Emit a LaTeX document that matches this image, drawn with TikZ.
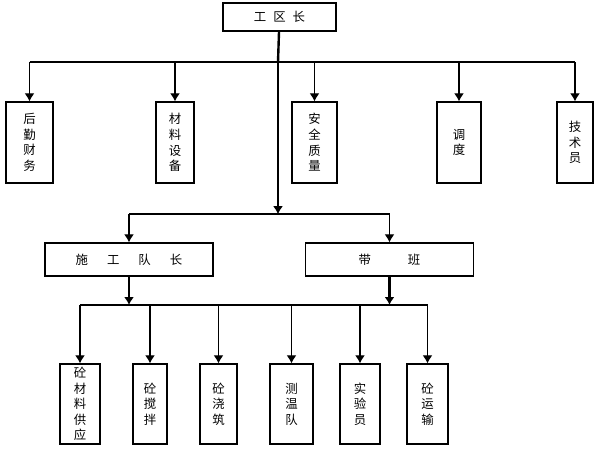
\documentclass[tikz,border=0pt]{standalone}
\usepackage{fontspec}
\newfontfamily\cjk{Noto Sans CJK SC}
\usetikzlibrary{arrows.meta}

\begin{document}
\begin{tikzpicture}[x=0.5pt, y=-0.5pt, >={Latex[length=4pt,width=5pt]}]
	\tikzset{block/.style={draw, rectangle, align=center, inner sep=0pt, line width=0.7pt,
			font=\cjk\fontsize{6.2}{7.8}\selectfont},
		tall/.style={block, minimum height=40.5pt},
		wide/.style={block, minimum width=84pt, minimum height=16.5pt},
		trunk/.style={line width=1.2pt},
		link/.style={line width=0.6pt}
	}
	\useasboundingbox (0,0) rectangle (600,450);

	\node [block, minimum width=56.5pt, minimum height=14pt] (chief) at (279.5,17) {工\hspace{3.5pt}区\hspace{3.5pt}长};

	% top row
	\node [tall, minimum width=23.5pt] (logistics) at (29.5,142.5) {后\\勤\\财\\务};
	\node [tall, minimum width=19pt] (material) at (175,142.5) {材\\料\\设\\备};
	\node [tall, minimum width=22.5pt] (safety) at (314.5,142.5) {安\\全\\质\\量};
	\node [tall, minimum width=22pt] (dispatch) at (459,142.5) {调\\度};
	\node [tall, minimum width=18pt] (tech) at (575,142.5) {技\\术\\员};

	% middle row
	\node [wide] (captain) at (129,259.5) {施\hspace{9.5pt}工\hspace{9.5pt}队\hspace{9.5pt}长};
	\node [wide] (shift) at (389.5,259.5) {带\hspace{18.5pt}班};

	% bottom row
	\node [block, minimum width=20pt, minimum height=40pt] (supply) at (80,404) {砼\\材\\料\\供\\应};
	\node [block, minimum width=17pt, minimum height=40pt] (mixing) at (150,404) {砼\\搅\\拌};
	\node [block, minimum width=18.5pt, minimum height=40pt] (pouring) at (218.5,404) {砼\\浇\\筑};
	\node [block, minimum width=21.5pt, minimum height=40pt] (temp) at (291.5,404) {测\\温\\队};
	\node [block, minimum width=20pt, minimum height=40pt] (lab) at (360,404) {实\\验\\员};
	\node [block, minimum width=20.5pt, minimum height=40pt] (transport) at (427.5,404) {砼\\运\\输};

	\coordinate (topbus) at (278,62);
	\coordinate (midbus) at (278,214);
	\coordinate (lowbus) at (278,305);

	\draw[trunk] (chief) -- (topbus);
	\draw[link] (logistics.north |- topbus) -- (tech.north |- topbus);
	\foreach \n in {logistics,material,safety,dispatch,tech}
		\draw[link,->] (\n.north |- topbus) -- (\n.north);

	\draw[link,->] (topbus) -- (midbus);
	\draw[link] (captain.north |- midbus) -- (shift.north |- midbus);
	\draw[link,->] (captain.north |- midbus) -- (captain.north);
	\draw[link,->] (shift.north |- midbus) -- (shift.north);

	\draw[trunk,->] (captain) -- (captain.south |- lowbus);
	\draw[trunk,->] (shift) -- (shift.south |- lowbus);
	\draw[link] (supply.north |- lowbus) -- (transport.north |- lowbus);
	\foreach \n in {supply,mixing,pouring,temp,lab,transport}
		\draw[link,->] (\n.north |- lowbus) -- (\n.north);

\end{tikzpicture}
\end{document}
